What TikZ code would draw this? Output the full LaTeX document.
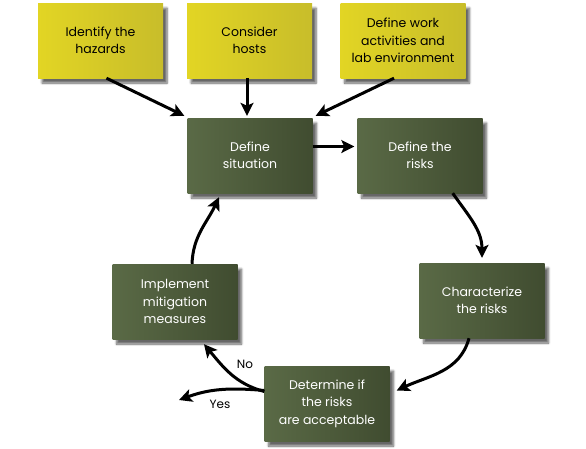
\documentclass[tikz,border=0pt]{standalone}
\usepackage{fontspec}
\setmainfont{Poppins}
\usepackage{tikz}
\usetikzlibrary{shapes,arrows.meta,positioning,shadows,shadows.blur}
\definecolor{yelL}{RGB}{226,213,36}
\definecolor{yelR}{RGB}{200,189,42}
\definecolor{grnL}{RGB}{90,106,70}
\definecolor{grnR}{RGB}{64,76,48}
\tikzstyle{source} = [rectangle, left color = yelL, right color = yelR, minimum width = 125pt, minimum height = 75pt, align = center, font = \fontsize{12.5}{17.5}\selectfont, blur shadow = {shadow xshift = 4pt, shadow yshift = -5pt, shadow opacity = 60, shadow blur steps = 6}]
\tikzstyle{block} = [rectangle, left color = grnL, right color = grnR, text = white, minimum width = 125pt, minimum height = 75pt, align = center, font = \fontsize{12.5}{17.5}\selectfont, blur shadow = {shadow xshift = 4pt, shadow yshift = -5pt, shadow opacity = 60, shadow blur steps = 6}]
\tikzstyle{line2} = [draw, line width = 3pt, -{Stealth[length = 13pt, width = 13pt, inset = 3pt]}]
\tikzstyle{answer} = [font = \fontsize{12}{14}\selectfont]

\begin{document}
\begin{tikzpicture}[x = 1pt, y = 1pt]
			\useasboundingbox (0, 0) rectangle (586, -448);
			% Place nodes
			\node [source] (hazards) at (100.5, -40.5) {Identify the\\hazards};
			\node [source] (hosts) at (249.5, -40.5) {Consider\\hosts};
			\node [source] (work) at (403, -40.5) {Define work\\activities and\\lab environment};
			\node [block] (situation) at (250, -155.5) {Define\\situation};
			\node [block] (risks) at (420, -155.5) {Define the\\risks};
			\node [block] (character) at (482, -300.5) {Characterize\\the risks};
			\node [block] (determine) at (327, -403.5) {Determine if\\the risks\\are acceptable};
			\node [block] (implement) at (175, -301.5) {Implement\\mitigation\\measures};
			\coordinate (yesend) at (179, -400);
			\node [answer] (no) at (245, -364) {No};
			\node [answer] (yes) at (220, -404) {Yes};
			
			% Draw edges
			\path [line2] ([xshift = 6pt]hazards.south) -- ([shift = {(-3pt, 2pt)}]situation.north west);
			\path [line2] ([xshift = -2.5pt]hosts.south) -- ([shift = {(-3pt, 2pt)}]situation.north);
			\path [line2] ([xshift = -9pt]work.south) -- ([shift = {(3pt, 2pt)}]situation.north east);
			\path [line2] ([yshift = 9pt]situation.east) -- ([shift = {(-3pt, 9pt)}]risks.west);
			\path [line2] ([xshift = -30pt]risks.south east) to [out = -55, in = 90] ([yshift = 5pt]character.north);
			\path [line2] ([xshift = -13pt]character.south) to [out = -105, in = 25] ([shift = {(7pt, 13pt)}]determine.east);
			\path [line2] ([yshift = 12pt]determine.west) to [out = 165, in = -50] ([shift = {(29pt, -5pt)}]implement.south);
			\path [line2] ([yshift = 13pt]determine.west) to [out = 175, in = 20] (yesend);
			\path [line2] ([xshift = 17pt]implement.north) to [out = 88, in = -115] ([shift = {(-31pt, -4pt)}]situation.south);
		\end{tikzpicture}
\end{document}
